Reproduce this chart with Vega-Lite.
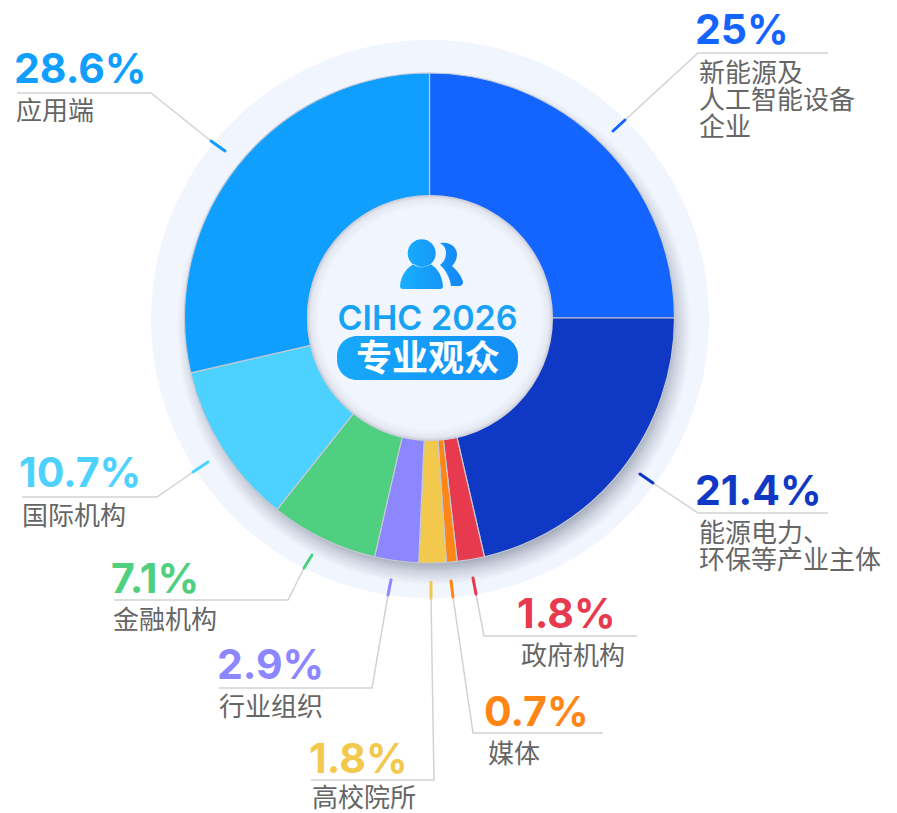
{
"$schema":"https://vega.github.io/schema/vega-lite/v6.json",
"width":897,"height":813,"padding":0,"autosize":{"type":"fit","contains":"padding"},
"background":"white",
"config":{"view":{"stroke":null}},
"datasets":{
"slices":[
{"name":"新能源及人工智能设备企业","share":25,"rank":1},
{"name":"能源电力、环保等产业主体","share":21.4,"rank":2},
{"name":"政府机构","share":1.8,"rank":3},
{"name":"媒体","share":0.7,"rank":4},
{"name":"高校院所","share":1.8,"rank":5},
{"name":"行业组织","share":2.9,"rank":6},
{"name":"金融机构","share":7.1,"rank":7},
{"name":"国际机构","share":10.7,"rank":8},
{"name":"应用端","share":28.6,"rank":9}],
"values":[
{"name":"新能源及人工智能设备企业","pct":"25%","tx":695,"ty":44},
{"name":"能源电力、环保等产业主体","pct":"21.4%","tx":695,"ty":505},
{"name":"政府机构","pct":"1.8%","tx":517,"ty":628},
{"name":"媒体","pct":"0.7%","tx":484,"ty":726},
{"name":"高校院所","pct":"1.8%","tx":309,"ty":773},
{"name":"行业组织","pct":"2.9%","tx":217,"ty":679},
{"name":"金融机构","pct":"7.1%","tx":111,"ty":593},
{"name":"国际机构","pct":"10.7%","tx":19,"ty":487},
{"name":"应用端","pct":"28.6%","tx":14,"ty":83}],
"labels":[
{"lines":["新能源及","人工智能设备","企业"],"tx":699,"ty":82},
{"lines":["能源电力、","环保等产业主体"],"tx":699,"ty":542},
{"lines":["政府机构"],"tx":521,"ty":665},
{"lines":["媒体"],"tx":488,"ty":763},
{"lines":["高校院所"],"tx":312,"ty":807},
{"lines":["行业组织"],"tx":219,"ty":716},
{"lines":["金融机构"],"tx":113,"ty":629},
{"lines":["国际机构"],"tx":22,"ty":525},
{"lines":["应用端"],"tx":16,"ty":120}],
"leaders":[
{"name":"a","step":1,"px":625,"py":120},{"name":"a","step":2,"px":698,"py":53},{"name":"a","step":3,"px":828,"py":53},
{"name":"b","step":1,"px":653,"py":483},{"name":"b","step":2,"px":698,"py":513},{"name":"b","step":3,"px":828,"py":513},
{"name":"c","step":1,"px":476,"py":594},{"name":"c","step":2,"px":484,"py":636},{"name":"c","step":3,"px":637,"py":636},
{"name":"d","step":1,"px":453,"py":597},{"name":"d","step":2,"px":473,"py":733},{"name":"d","step":3,"px":603,"py":733},
{"name":"e","step":1,"px":431,"py":598},{"name":"e","step":2,"px":434,"py":780},{"name":"e","step":3,"px":311,"py":780},
{"name":"f","step":1,"px":388,"py":595},{"name":"f","step":2,"px":372,"py":688},{"name":"f","step":3,"px":219,"py":688},
{"name":"g","step":1,"px":304,"py":568},{"name":"g","step":2,"px":288,"py":600},{"name":"g","step":3,"px":114,"py":600},
{"name":"h","step":1,"px":193,"py":472},{"name":"h","step":2,"px":157,"py":497},{"name":"h","step":3,"px":22,"py":497},
{"name":"i","step":1,"px":211,"py":141},{"name":"i","step":2,"px":151,"py":93},{"name":"i","step":3,"px":17,"py":93}],
"ticks":[
{"name":"新能源及人工智能设备企业","x0":613,"y0":131,"x1":625,"y1":120},
{"name":"能源电力、环保等产业主体","x0":640,"y0":474,"x1":653,"y1":483},
{"name":"政府机构","x0":473,"y0":578,"x1":476,"y1":594},
{"name":"媒体","x0":451,"y0":581,"x1":453,"y1":597},
{"name":"高校院所","x0":431,"y0":582,"x1":431,"y1":598},
{"name":"行业组织","x0":391,"y0":580,"x1":388,"y1":595},
{"name":"金融机构","x0":312,"y0":555,"x1":304,"y1":568},
{"name":"国际机构","x0":208,"y0":462,"x1":193,"y1":472},
{"name":"应用端","x0":225,"y0":151,"x1":211,"y1":141}]
},
"resolve":{"scale":{"color":"shared"}},
"layer":[
{"data":{"values":[{"k":"halo"}]},
 "mark":{"type":"arc","theta":0,"theta2":6.2832,"innerRadius":0,"outerRadius":279,"fill":"#F1F5FD"},
 "encoding":{"x":{"datum":430,"type":"quantitative","axis":null,"scale":{"domain":[0,897],"nice":false,"zero":false}},
             "y":{"datum":319,"type":"quantitative","axis":null,"scale":{"domain":[813,0],"nice":false,"zero":false}}}},
{"data":{"values":[{"k":"shadow"}]},
 "mark":{"type":"arc","theta":0,"theta2":6.2832,"innerRadius":0,"outerRadius":257,
   "fill":{"gradient":"radial","x1":0.5,"y1":0.5,"r1":0,"x2":0.5,"y2":0.5,"r2":0.5,
     "stops":[{"offset":0.9,"color":"#9a9fb0"},{"offset":0.95,"color":"#cdd2df"},{"offset":1,"color":"#f1f5fd"}]}},
 "encoding":{"x":{"datum":434,"type":"quantitative"},"y":{"datum":328,"type":"quantitative"}}},
{"data":{"name":"slices"},
 "mark":{"type":"arc","innerRadius":122,"outerRadius":245,"stroke":"#c4c9d2","strokeWidth":1.2},
 "encoding":{"x":{"datum":429.5,"type":"quantitative"},"y":{"datum":318,"type":"quantitative"},
   "theta":{"field":"share","type":"quantitative","scale":{"domain":[0,100],"range":[0,6.2832]},"stack":true},
   "order":{"field":"rank","type":"ordinal"},
   "color":{"field":"name","type":"nominal","legend":null,
     "scale":{"domain":["新能源及人工智能设备企业","能源电力、环保等产业主体","政府机构","媒体","高校院所","行业组织","金融机构","国际机构","应用端"],
              "range":["#1464FF","#0F39C4","#E83A4E","#FF8514","#F2C94C","#8C87FF","#4FCF80","#4DD2FF","#109FFF"]}}}},
{"data":{"values":[{"k":"hole"}]},
 "mark":{"type":"arc","theta":0,"theta2":6.2832,"innerRadius":0,"outerRadius":123,
   "fill":{"gradient":"radial","x1":0.5,"y1":0.5,"r1":0,"x2":0.5,"y2":0.5,"r2":0.5,
     "stops":[{"offset":0.9,"color":"#F1F6FE"},{"offset":0.97,"color":"#e4e7f0"},{"offset":1,"color":"#c6c9d4"}]}},
 "encoding":{"x":{"datum":430,"type":"quantitative"},"y":{"datum":318,"type":"quantitative"}}},
{"data":{"name":"leaders"},
 "mark":{"type":"line","stroke":"#D2D2D2","strokeWidth":1.5,"strokeJoin":"miter"},
 "encoding":{"x":{"field":"px","type":"quantitative"},"y":{"field":"py","type":"quantitative"},"detail":{"field":"name"},"order":{"field":"step","type":"quantitative"}}},
{"data":{"name":"ticks"},
 "mark":{"type":"rule","strokeWidth":3,"strokeCap":"round"},
 "encoding":{"x":{"field":"x0","type":"quantitative"},"y":{"field":"y0","type":"quantitative"},"x2":{"field":"x1"},"y2":{"field":"y1"},
   "color":{"field":"name","type":"nominal","legend":null}}},
{"data":{"name":"values"},
 "mark":{"type":"text","align":"left","baseline":"alphabetic","font":"Inter","fontSize":41,"fontWeight":"bold"},
 "encoding":{"x":{"field":"tx","type":"quantitative"},"y":{"field":"ty","type":"quantitative"},"text":{"field":"pct"},
   "color":{"field":"name","type":"nominal","legend":null}}},
{"data":{"name":"labels"},
 "mark":{"type":"text","align":"left","baseline":"alphabetic","font":"Noto Sans CJK SC","fontSize":26,"lineHeight":27,"fill":"#666666"},
 "encoding":{"x":{"field":"tx","type":"quantitative"},"y":{"field":"ty","type":"quantitative"},"text":{"field":"lines"}}},
{"data":{"values":[{"k":"icon"}]},
 "mark":{"type":"point","filled":true,"size":4,"opacity":1,
   "shape":"M-22.3,-16.7 a14,14 0 1,0 28,0 a14,14 0 1,0 -28,0 Z M-27,19 Q-30,19 -30,16 C-29,4 -22,-3 -16,-6 C-11,-2 -5,-2 0,-6 C6,-3 12,4 13,16 Q13,19 10,19 Z M10,-26.7 C19,-29 27,-23 27,-16 C27,-11 25,-7 22,-4 C27,0 32,7 33,12 Q33,16 29,16 L21,16 C20,8 16,0 10,-5 C14,-8 16,-12 16,-17 C16,-21 14,-25 10,-26.7 Z",
   "fill":{"gradient":"linear","x1":0,"y1":0,"x2":1,"y2":0,"stops":[{"offset":0,"color":"#19B0FF"},{"offset":1,"color":"#1487F5"}]}},
 "encoding":{"x":{"datum":430,"type":"quantitative"},"y":{"datum":270,"type":"quantitative"}}},
{"data":{"values":[{"t":"CIHC 2026"}]},
 "mark":{"type":"text","align":"center","baseline":"alphabetic","font":"Inter","fontSize":34,"fontWeight":600,"fill":"#18A2F5"},
 "encoding":{"x":{"datum":427.5,"type":"quantitative"},"y":{"datum":330,"type":"quantitative"},"text":{"field":"t"}}},
{"data":{"values":[{"k":"pill"}]},
 "mark":{"type":"rect","cornerRadius":20,
   "fill":{"gradient":"linear","x1":0,"y1":0,"x2":1,"y2":0,"stops":[{"offset":0,"color":"#17A9FA"},{"offset":1,"color":"#128EF6"}]}},
 "encoding":{"x":{"datum":337,"type":"quantitative"},"x2":{"datum":518},"y":{"datum":336,"type":"quantitative"},"y2":{"datum":380}}},
{"data":{"values":[{"t":"专业观众"}]},
 "mark":{"type":"text","align":"center","baseline":"alphabetic","font":"Noto Sans CJK SC","fontSize":36,"fontWeight":"bold","fill":"white"},
 "encoding":{"x":{"datum":428,"type":"quantitative"},"y":{"datum":371,"type":"quantitative"},"text":{"field":"t"}}}
]
}
